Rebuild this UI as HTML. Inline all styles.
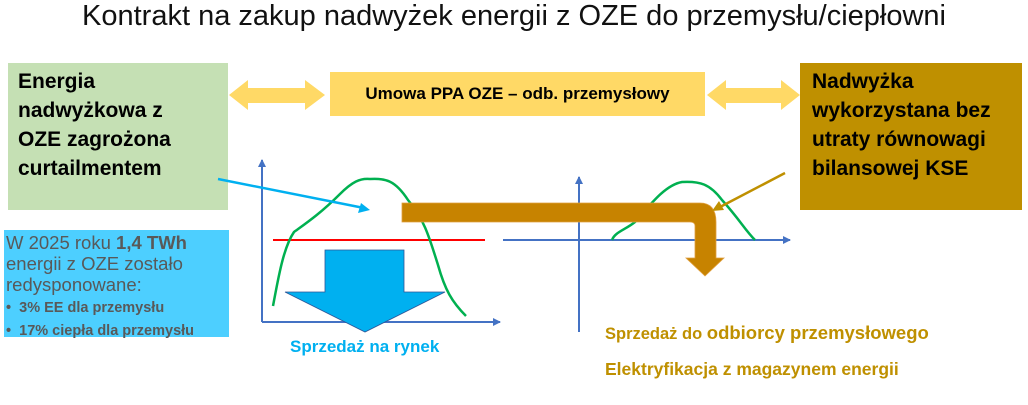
<!DOCTYPE html>
<html><head><meta charset="utf-8"><style>
body{margin:0;width:1028px;height:405px;background:#fff;position:relative;overflow:hidden;font-family:"Liberation Sans",sans-serif}
.a{position:absolute;white-space:nowrap}
.box{position:absolute;font-weight:bold;font-size:21px;line-height:29px;color:#000;box-sizing:border-box}
</style></head><body>
<div class="a" style="left:0;width:1028px;text-align:center;top:0px;font-size:29px;color:#111">Kontrakt na zakup nadwyżek energii z OZE do przemysłu/ciepłowni</div>
<div class="box" style="left:8px;top:63px;width:220px;height:147px;background:#c5e0b4;padding:4px 0 0 10px">Energia<br>nadwyżkowa z<br>OZE zagrożona<br>curtailmentem</div>
<div class="box" style="left:800px;top:63px;width:222px;height:147px;background:#bf9000;padding:4px 0 0 12px">Nadwyżka<br>wykorzystana bez<br>utraty równowagi<br>bilansowej KSE</div>
<div class="a" style="left:330px;top:72px;width:375px;height:44px;background:#ffd966;text-align:center;line-height:44px;font-weight:bold;font-size:17px">Umowa PPA OZE – odb. przemysłowy</div>
<div class="a" style="left:4px;top:230px;width:225px;height:107px;background:#4dcfff;color:#595959;font-size:18.5px;line-height:21px;padding:2px 0 0 2px;box-sizing:border-box">W 2025 roku <b>1,4 TWh</b><br>energii z OZE zostało<br>redysponowane:<br><span style="font-size:14.5px;font-weight:bold;line-height:19px">•&nbsp; 3% EE dla przemysłu<br>•&nbsp; 17% ciepła dla przemysłu</span></div>
<svg class="a" style="left:0;top:0" width="1028" height="405">
<defs>
<marker id="mb" markerWidth="8" markerHeight="8" refX="7" refY="4" orient="auto" markerUnits="userSpaceOnUse"><path d="M0,0L8,4L0,8z" fill="#4472c4"/></marker>
</defs>
<polygon points="229,95 248,80 248,88 305,88 305,80 325,95 305,110 305,103 248,103 248,110" fill="#ffd966"/>
<polygon points="707,95 726,80 726,88 781,88 781,80 800,95 781,110 781,103 726,103 726,110" fill="#ffd966"/>
<line x1="262" y1="322" x2="262" y2="160" stroke="#4472c4" stroke-width="2" marker-end="url(#mb)"/>
<line x1="262" y1="322" x2="500" y2="322" stroke="#4472c4" stroke-width="2" marker-end="url(#mb)"/>
<line x1="273" y1="240" x2="485" y2="240" stroke="#ff0000" stroke-width="2"/>
<path d="M273,306 C278,280 283,248 294,232 C305,224 320,214 340,194 C352,182 360,178 370,179 C385,178 395,180 408,200 C425,220 430,240 438,265 C445,290 452,302 466,316" fill="none" stroke="#00b050" stroke-width="2.5"/>
<polygon points="325,250 404,250 404,292 445,292 365,332 285,292 325,292" fill="#00b0f0" stroke="#2f5597" stroke-width="0.8"/>
<line x1="218" y1="179" x2="364" y2="208" stroke="#00b0f0" stroke-width="2.5"/>
<polygon points="370,210 358,213 361,203" fill="#00b0f0"/>
<line x1="579" y1="332" x2="579" y2="177" stroke="#4472c4" stroke-width="2" marker-end="url(#mb)"/>
<line x1="503" y1="240" x2="790" y2="240" stroke="#4472c4" stroke-width="2" marker-end="url(#mb)"/>
<path d="M612,240 C615,232 625,230 635,222 C650,205 665,185 682,182 C700,181 710,184 722,200 C740,220 745,230 755,240" fill="none" stroke="#00b050" stroke-width="2.5"/>
<path d="M402,203 L700,203 Q716,203 716,222 L716,258 L724,258 L705,276 L686,258 L695,258 L695,226 Q695,222 690,222 L402,222 Z" fill="#c78300" stroke="#e0a040" stroke-width="0.8"/>
<line x1="785" y1="173" x2="720" y2="207" stroke="#bf9000" stroke-width="2.5"/>
<polygon points="712,211 719,201 724,210" fill="#bf9000"/>
</svg>
<div class="a" style="left:290px;top:337px;font-size:17px;font-weight:bold;color:#00b0f0">Sprzedaż na rynek</div>
<div class="a" style="left:605px;top:322px;font-size:16.5px;font-weight:bold;color:#bf9000">Sprzedaż do <span style="font-size:18.5px">odbiorcy przemysłowego</span></div>
<div class="a" style="left:605px;top:359px;font-size:17.5px;font-weight:bold;color:#bf9000">Elektryfikacja z magazynem energii</div>
</body></html>
